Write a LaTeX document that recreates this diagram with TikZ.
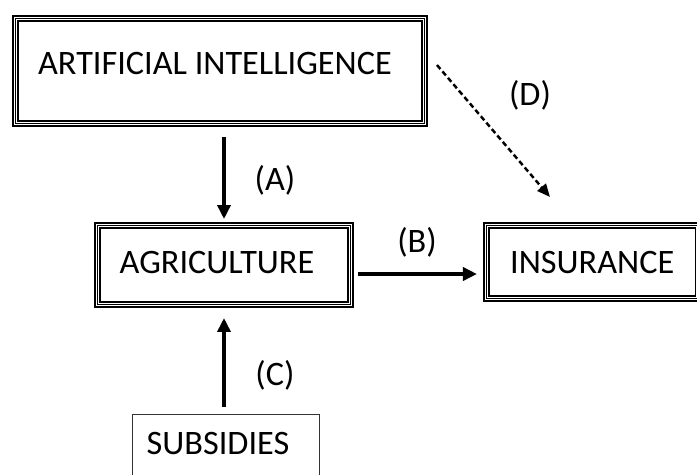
\documentclass[tikz,border=0pt]{standalone}
\usepackage{fontspec}
\setmainfont{Carlito}
\usetikzlibrary{arrows.meta}

\begin{document}
\begin{tikzpicture}[x=0.02cm, y=-0.02cm,
    every node/.style={font=\fontsize{19.5}{23}\selectfont, inner sep=0pt, outer sep=0pt},
    tribox/.style={fill=white, draw, line width=3.8pt,
      postaction={draw=white, line width=1.9pt},
      postaction={draw, line width=0.6pt}},
    plainbox/.style={draw=black!80, line width=0.7pt},
    arr/.style={-{Triangle[length=0.28cm,width=0.26cm]}, line width=2pt},
    dsh/.style={-{Triangle[length=0.26cm,width=0.22cm]}, line width=1.4pt, dash pattern=on 3pt off 1.8pt}]
  \clip (0,0) rectangle (697,474);

  \node[tribox, minimum width=8.18cm, text height=1.11cm, text depth=0.99cm] (ai) at (220,71) {ARTIFICIAL INTELLIGENCE\hspace*{0.2cm}};
  \node[tribox, minimum width=5.06cm, text height=0.95cm, text depth=0.63cm] (agri) at (224,265) {AGRICULTURE\hspace*{0.28cm}};
  \node[tribox, minimum width=4.23cm, text height=0.95cm, text depth=0.51cm] (ins) at (592.2,262) {INSURANCE};
  \node[plainbox, minimum width=3.74cm, text height=0.81cm, text depth=1.02cm] (sub) at (226,460) {SUBSIDIES\hspace*{0.32cm}};

  \node (la) at (275,180) {(A)};
  \node (lb) at (417,242) {(B)};
  \node (lc) at (275,375) {(C)};
  \node (ld) at (530,95) {(D)};

  \draw[arr, shorten <=0.27cm, shorten >=0.13cm] (agri.north |- ai.south) -- (agri.north);
  \draw[arr, shorten <=0.15cm, shorten >=0.19cm] ([yshift=-0.18cm]agri.east) -- ([yshift=-0.18cm]agri.east -| ins.west);
  \draw[arr, shorten <=0.15cm, shorten >=0.27cm] (sub.north -| agri.south) -- (agri.south);
  \coordinate (dtip) at (550,197);
  \draw[dsh] ([xshift=0.25cm,yshift=0.12cm]ai.east) -- (dtip);
\end{tikzpicture}
\end{document}
